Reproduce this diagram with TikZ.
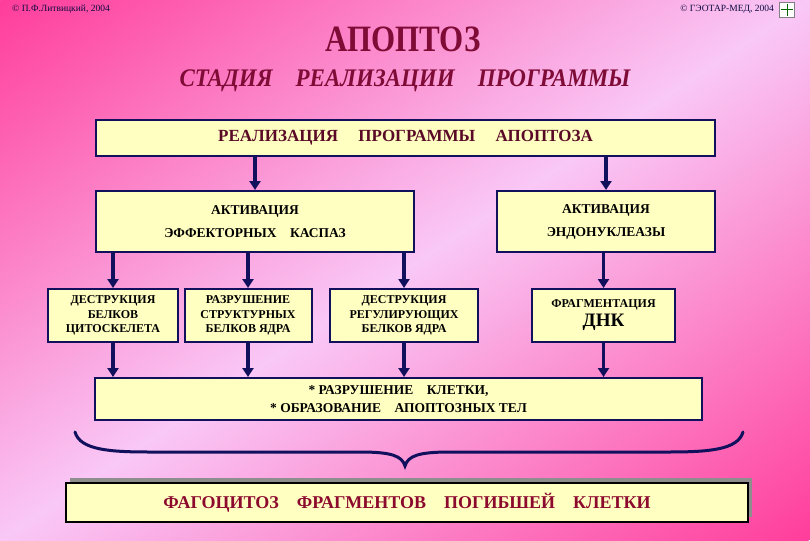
\documentclass[tikz,border=0pt]{standalone}
\usepackage{fontspec}
\setmainfont{Liberation Serif}
\usetikzlibrary{arrows.meta,positioning,calc,shadows}
\definecolor{hotpink}{HTML}{FF3D9A}
\definecolor{blush}{HTML}{F9C8F6}
\definecolor{ink}{HTML}{10105C}
\definecolor{cream}{HTML}{FFFFC2}
\definecolor{wine}{HTML}{7E0C36}
\definecolor{darkwine}{HTML}{5A0A26}
\definecolor{claret}{HTML}{8C0A2E}
\definecolor{shadowgray}{HTML}{8E8E8E}
\tikzset{
  stagebox/.style={rectangle, draw=ink, fill=cream, line width=2pt, align=center,
                   inner sep=2pt, text=black},
  topbox/.style={stagebox, text=darkwine, font=\bfseries\fontsize{17}{19}\selectfont},
  midbox/.style={stagebox, minimum height=61pt, font=\bfseries\fontsize{13.5}{23}\selectfont},
  smallbox/.style={stagebox, minimum height=53pt, font=\bfseries\fontsize{12}{14.5}\selectfont},
  resultbox/.style={stagebox, minimum height=42pt, font=\bfseries\fontsize{13.5}{18}\selectfont},
  finalbox/.style={stagebox, draw=black, line width=2.5pt, text=claret,
                   font=\bfseries\fontsize{18}{20}\selectfont,
                   drop shadow={shadow xshift=4pt, shadow yshift=5pt, fill=shadowgray, opacity=1}},
  credit/.style={font=\fontsize{9.5}{11}\selectfont, text=ink!70!black, inner sep=0pt},
  flow/.style={-{Triangle[width=11pt,length=9pt]}, draw=ink, line width=3.5pt},
  brace/.style={draw=ink, line width=3pt, line cap=round}
}

\begin{document}
\begin{tikzpicture}[x=1pt, y=-1pt]
  \useasboundingbox (0,0) rectangle (810,540);
  % background
  \begin{scope}
    \clip (0,0) rectangle (810,540);
    \begin{scope}[transform canvas={rotate around={-56.3:(405,270)}}]
      \shade[left color=hotpink, right color=hotpink, middle color=blush] (-44,-330) rectangle (854,870);
    \end{scope}
  \end{scope}

  \node[credit, anchor=west] (author) at (12,9) {© П.Ф.Литвицкий, 2004};
  \node[credit, anchor=east] (publisher) at (774,9) {© ГЭОТАР-МЕД, 2004};
  \node[draw=gray, fill=white, minimum size=15pt, inner sep=0pt] (logo) at (787,10) {};
  \draw[green!40!black, line width=1pt] (787,4) -- (787,16) (781,10) -- (793,10);

  \node[text=wine, font=\bfseries\fontsize{31}{31}\selectfont] (head) at (403,39)
    {\scalebox{1}[1.2]{АПОПТОЗ}};
  \node[text=wine, font=\bfseries\itshape\fontsize{23}{23}\selectfont] (stage) at (405,81)
    {\scalebox{1}[1.1]{СТАДИЯ\quad РЕАЛИЗАЦИИ\quad ПРОГРАММЫ}};

  \node[topbox, minimum width=619pt, minimum height=36pt] (realiz) at (405.5,138)
    {РЕАЛИЗАЦИЯ\hspace{1.2em}ПРОГРАММЫ\hspace{1.2em}АПОПТОЗА};

  \node[midbox, minimum width=318pt] (caspase) at (255,221.5) {АКТИВАЦИЯ\\ЭФФЕКТОРНЫХ\quad КАСПАЗ};
  \node[midbox, minimum width=218pt] (nuclease) at (606,221.5) {АКТИВАЦИЯ\\ЭНДОНУКЛЕАЗЫ};

  \node[smallbox, minimum width=130pt] (cytoskel) at (113,315.5) {ДЕСТРУКЦИЯ\\БЕЛКОВ\\ЦИТОСКЕЛЕТА};
  \node[smallbox, minimum width=127pt] (nucstruct) at (248,315.5) {РАЗРУШЕНИЕ\\СТРУКТУРНЫХ\\БЕЛКОВ ЯДРА};
  \node[smallbox, minimum width=148pt] (nucreg) at (404,315.5) {ДЕСТРУКЦИЯ\\РЕГУЛИРУЮЩИХ\\БЕЛКОВ ЯДРА};
  \node[smallbox, minimum width=143pt] (dnafrag) at (603.5,315.5)
    {ФРАГМЕНТАЦИЯ\\[3pt]{\fontsize{19}{19}\selectfont ДНК}};

  \node[resultbox, minimum width=607pt] (destroy) at (398.5,399)
    {* РАЗРУШЕНИЕ\quad КЛЕТКИ,\\* ОБРАЗОВАНИЕ\quad АПОПТОЗНЫХ ТЕЛ};

  \node[finalbox, minimum width=682pt, minimum height=39pt] (phago) at (407,502.5)
    {ФАГОЦИТОЗ\quad ФРАГМЕНТОВ\quad ПОГИБШЕЙ\quad КЛЕТКИ};

  % arrows
  \draw[flow] (caspase.north |- realiz.south) -- (caspase.north);
  \draw[flow] (nuclease.north |- realiz.south) -- (nuclease.north);
  \foreach \src/\dst in {caspase/cytoskel, caspase/nucstruct, caspase/nucreg, nuclease/dnafrag}
    \draw[flow] (\src.south -| \dst.north) -- (\dst.north);
  \foreach \src in {cytoskel, nucstruct, nucreg, dnafrag}
    \draw[flow] (\src.south) -- (\src.south |- destroy.north);

  % brace
  \draw[brace] (75,432) .. controls (80,450) and (110,452) .. (150,452) -- (360,452)
    .. controls (392,452) and (402,456) .. (405,466)
    .. controls (408,456) and (418,452) .. (450,452) -- (668,452)
    .. controls (708,452) and (738,450) .. (743,432);
\end{tikzpicture}
\end{document}
